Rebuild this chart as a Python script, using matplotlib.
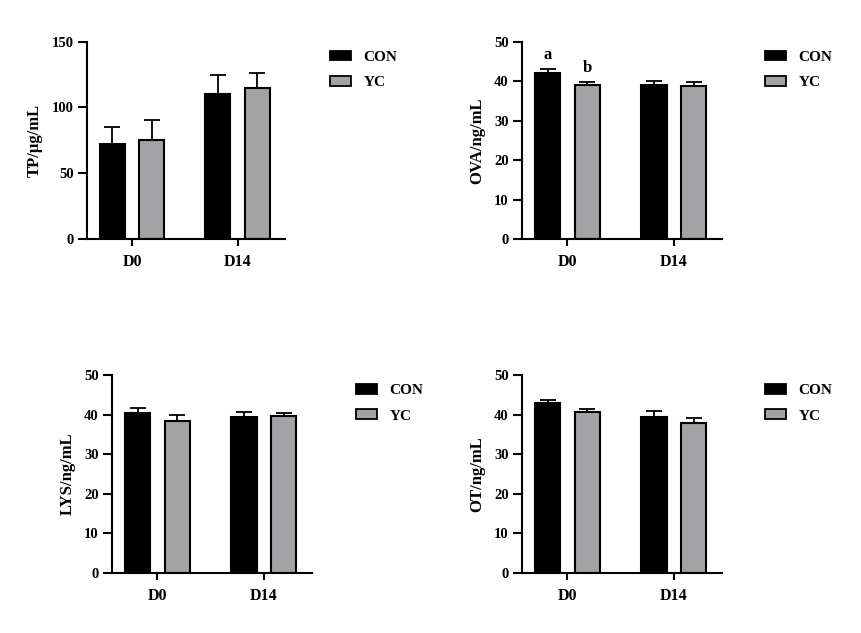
import numpy as np
import matplotlib
matplotlib.use('Agg')
import matplotlib.pyplot as plt
from matplotlib.patches import Patch

plt.rcParams['font.family'] = ['Liberation Serif', 'DejaVu Serif']
plt.rcParams['font.weight'] = 'bold'

days = ['D0', 'D14']
groups = ['CON', 'YC']
colors = ['#000000', '#a3a3a6']

# mean and upper error end
tp_mean = [[72.6, 110.3], [75.4, 115.1]]
tp_top = [[85.2, 124.7], [90.8, 126.2]]
ova_mean = [[42.1, 39.1], [39.0, 38.9]]
ova_top = [[43.1, 40.1], [39.9, 39.7]]
lys_mean = [[40.5, 39.3], [38.4, 39.6]]
lys_top = [[41.7, 40.6], [40.0, 40.5]]
ot_mean = [[42.8, 39.3], [40.6, 37.9]]
ot_top = [[43.8, 40.8], [41.5, 39.0]]

ova_letters = [['a', ''], ['b', '']]

W, H = 862, 633
fig = plt.figure(figsize=(W / 100, H / 100), dpi=100)

def px_rect(left, top, right, bottom):
    return [left / W, 1 - bottom / H, (right - left) / W, (bottom - top) / H]

panels = [
    (px_rect(86.7, 41.7, 285, 239), tp_mean, tp_top, 'TP/μg/mL', [0, 50, 100, 150], (330, 50.5), None),
    (px_rect(521.7, 41.7, 721.7, 239), ova_mean, ova_top, 'OVA/ng/mL', [0, 10, 20, 30, 40, 50], (765, 50.5), ova_letters),
    (px_rect(111.7, 375, 311.7, 572.7), lys_mean, lys_top, 'LYS/ng/mL', [0, 10, 20, 30, 40, 50], (356, 384), None),
    (px_rect(521.7, 375, 721.7, 572.7), ot_mean, ot_top, 'OT/ng/mL', [0, 10, 20, 30, 40, 50], (765, 384), None),
]

x = np.arange(len(days))
width = 0.24
offs = [-0.187, 0.187]

for rect, mean, top, ylabel, yticks, legpos, letters in panels:
    ax = fig.add_axes(rect)
    for i, g in enumerate(groups):
        m = np.array(mean[i])
        e = np.array(top[i]) - m
        ax.bar(x + offs[i], m, width, color=colors[i], edgecolor='black', linewidth=1.5,
               label=g, zorder=2)
        ax.errorbar(x + offs[i], m, yerr=[np.zeros_like(e), e], fmt='none', ecolor='black',
                    elinewidth=1.3, capsize=6, capthick=1.3, zorder=1)
        if letters is not None:
            for j in range(len(days)):
                if letters[i][j]:
                    ax.text(x[j] + offs[i], top[i][j] + 1.5, letters[i][j], ha='center',
                            va='bottom', fontsize=12, fontweight='bold')
    ax.set_xlim(-0.43, 1.45)
    ax.set_ylim(0, yticks[-1])
    ax.set_yticks(yticks)
    ax.set_xticks(x)
    ax.set_xticklabels(days)
    ax.set_ylabel(ylabel, fontsize=12, fontweight='bold', labelpad=6)
    for s in ['top', 'right']:
        ax.spines[s].set_visible(False)
    for s in ['left', 'bottom']:
        ax.spines[s].set_linewidth(1.5)
    ax.tick_params(axis='y', width=1.5, length=6.5, labelsize=10.5, pad=3)
    ax.tick_params(axis='x', width=1.5, length=5, labelsize=11.5, pad=6)
    handles = [Patch(facecolor=colors[i], edgecolor='black', linewidth=1.3, label=g)
               for i, g in enumerate(groups)]
    ax.legend(handles=handles, loc='upper left', frameon=False, fontsize=11,
              bbox_to_anchor=(legpos[0] / W, 1 - legpos[1] / H),
              bbox_transform=fig.transFigure, borderpad=0, borderaxespad=0,
              handlelength=1.4, handleheight=0.6, handletextpad=0.8, labelspacing=0.8)

fig.savefig('out.png', dpi=100)
